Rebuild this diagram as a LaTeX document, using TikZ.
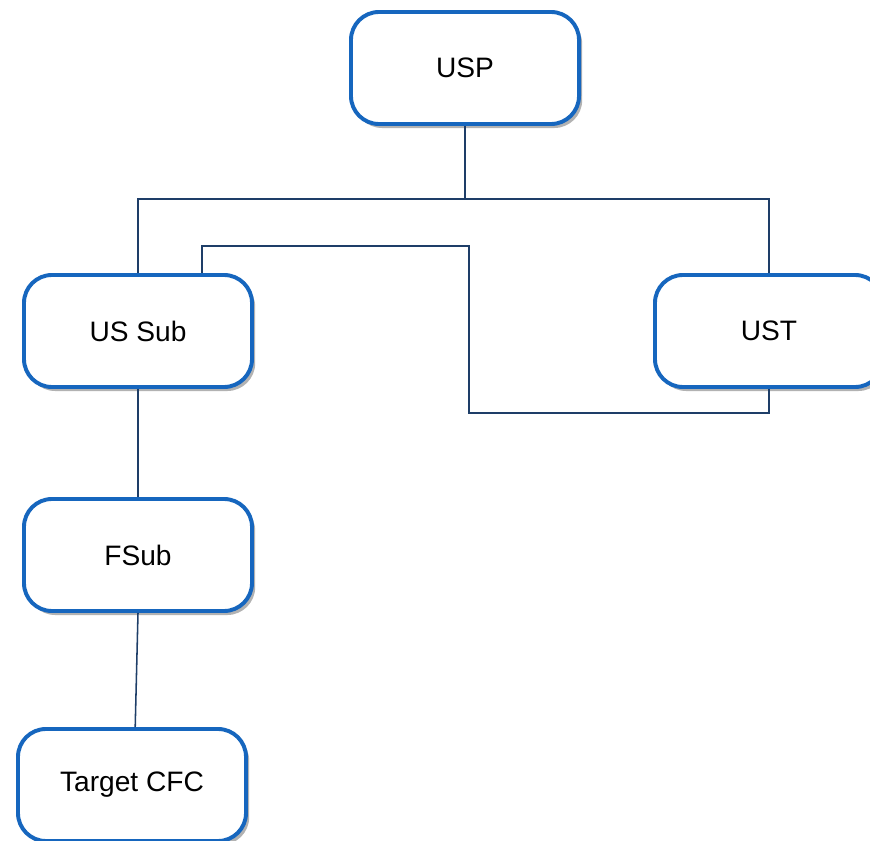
\documentclass[tikz,border=0pt]{standalone}
\usepackage{fontspec}
\setmainfont{Liberation Sans}
\usetikzlibrary{shadows}

\definecolor{boxblue}{RGB}{22,102,190}
\definecolor{linknavy}{RGB}{30,62,104}

\tikzset{
  entity/.style={draw=boxblue, line width=2.8pt, fill=white, rounded corners=0.7cm,
    minimum width=5.7cm, minimum height=2.8cm, font=\fontsize{20}{24}\selectfont,
    drop shadow={shadow xshift=0.08cm, shadow yshift=-0.1cm, fill=black, opacity=0.3}},
  link/.style={draw=linknavy, line width=1.1pt}
}

\begin{document}
\begin{tikzpicture}[x=0.025cm, y=-0.025cm]
\useasboundingbox (0,0) rectangle (870,841);
%\draw[help lines] (0,0) grid (870,841);
\node[entity] (usp) at (465,68) {USP};
\node[entity] (ussub) at (138,331) {US Sub};
\node[entity] (ust) at (769,331) {UST};
\node[entity] (fsub) at (138,555) {FSub};
\node[entity] (target) at (132,785) {Target CFC};
\coordinate (bar) at (465,199);
\coordinate (loopa) at (469,246);
\coordinate (loopb) at (469,413);
\draw[link] (usp.south) -- (bar);
\draw[link] (ussub.north) |- (bar) -| (ust.north);
\draw[link] ([xshift=1.6cm]ussub.north) |- (loopa) -- (loopb) -| (ust.south);
\draw[link] (ussub.south) -- (fsub.north);
\draw[link] (fsub.south) -- ([xshift=0.08cm]target.north);
\end{tikzpicture}
\end{document}
